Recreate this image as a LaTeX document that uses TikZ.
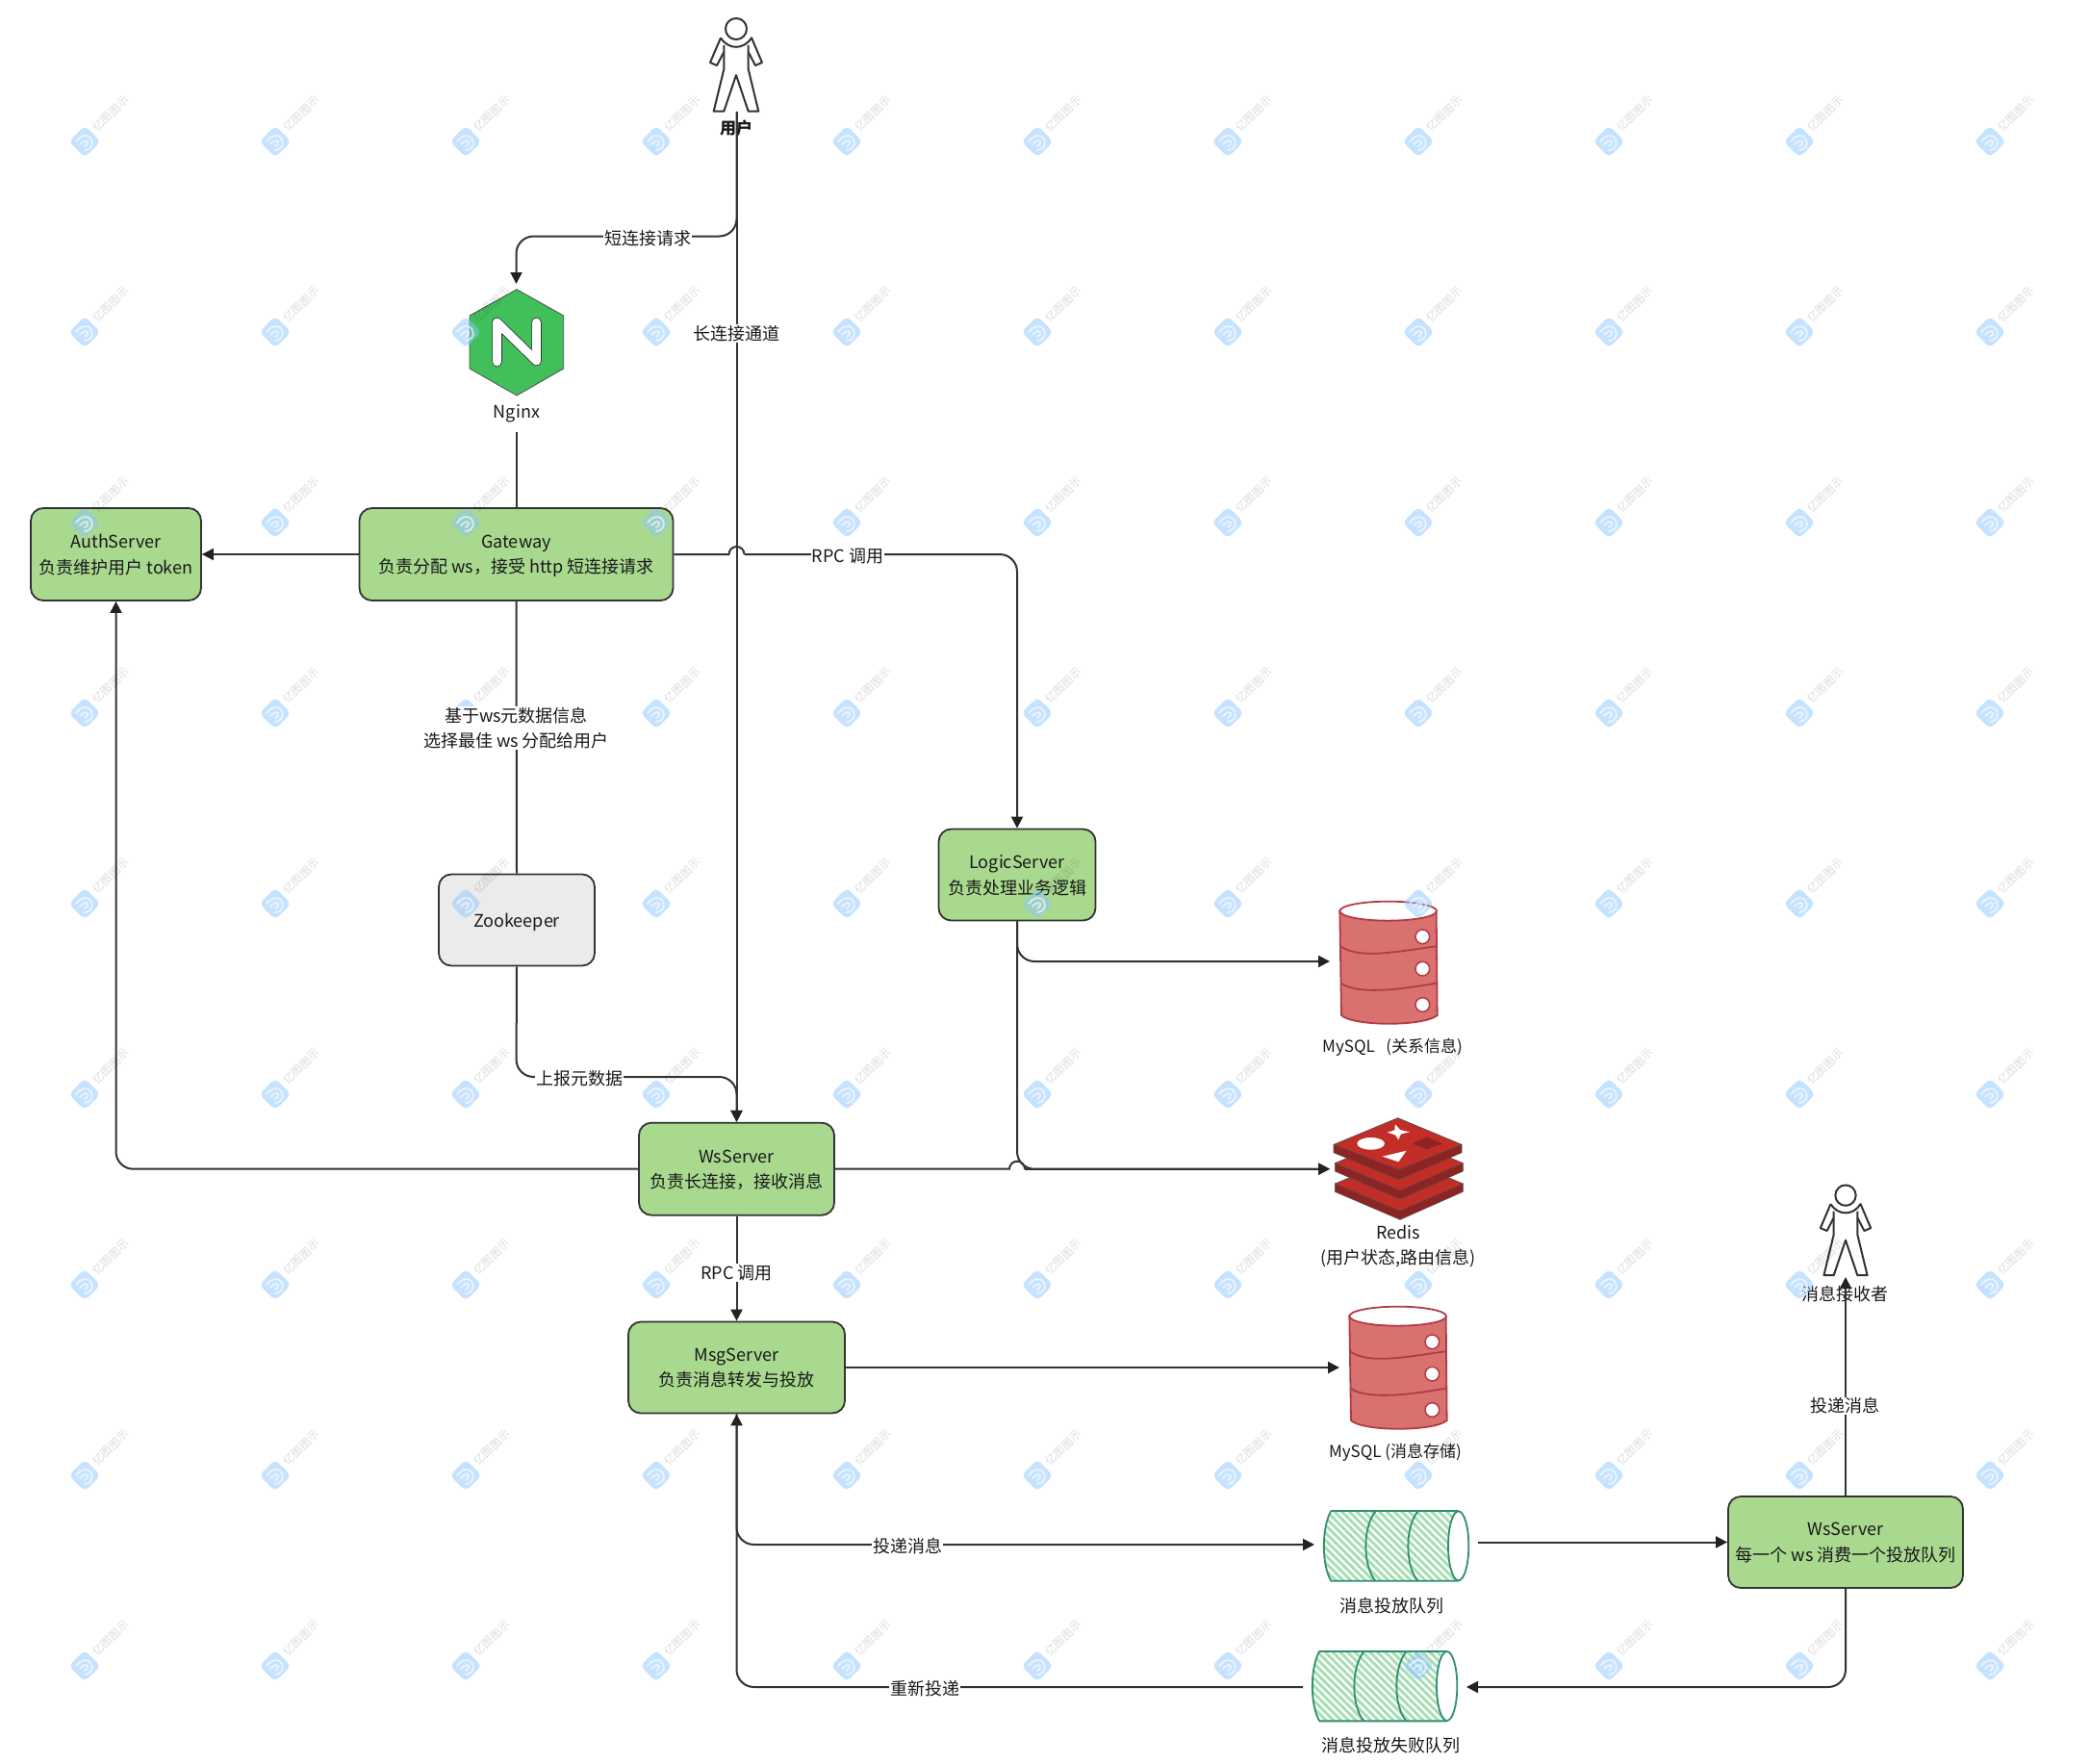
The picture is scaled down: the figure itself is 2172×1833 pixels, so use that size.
\documentclass[tikz,border=0pt]{standalone}
\usepackage{fontspec}
\setmainfont{Noto Sans CJK SC}
\usetikzlibrary{arrows.meta,patterns.meta}
\definecolor{linec}{HTML}{333333}
\definecolor{tipc}{HTML}{222222}
\definecolor{srvgreen}{HTML}{A9D98F}
\definecolor{zkgray}{HTML}{EBEBEB}
\definecolor{ngx}{HTML}{41BF5A}
\definecolor{dbfill}{HTML}{D9716F}
\definecolor{dbline}{HTML}{B23A48}
\definecolor{rtop}{HTML}{C22D28}
\definecolor{rside}{HTML}{8E2422}
\definecolor{qline}{HTML}{2F8F6F}
\definecolor{qhatch}{HTML}{A8DEB3}
\definecolor{wmblue}{HTML}{8CC6FF}
\tikzset{
  srv/.style={draw=linec,line width=1.8pt,fill=srvgreen,rounded corners=13pt,align=center,inner sep=0pt,text=black!90,font=\fontsize{18}{26.5}\selectfont,text depth=-0.5pt},
  lbl/.style={fill=white,inner sep=1pt,align=center,text=black!90,font=\fontsize{18}{26}\selectfont},
  capt/.style={inner sep=0pt,align=center,text=black!90,font=\fontsize{18}{26}\selectfont},
  smallcapt/.style={inner sep=0pt,align=center,text=black!90,font=\fontsize{17}{22}\selectfont},
  wire/.style={draw=linec,line width=2pt},
  arrowwire/.style={wire,-{Triangle[length=12pt,width=12pt,color=tipc]}},
  roundwire/.style={arrowwire,rounded corners=18pt},
  person/.pic={
    \draw[draw=linec,line width=2pt,line join=round] (0,30) circle[radius=11];
    \draw[draw=linec,line width=2pt,line join=round]
      (-16,39.3) .. controls (-8,52) and (8,52) .. (16,39.3)
      -- (27,65) -- (20,68) -- (12.7,54);
    \draw[draw=linec,line width=2pt,line join=round]
      (-16,39.3) -- (-27,65) -- (-20,68) -- (-12.7,54);
    \draw[draw=linec,line width=2pt,line join=round]
      (12.7,47) -- (12.7,72) -- (23.3,115.7) -- (12.7,115.7) -- (0,78)
      -- (-12.7,115.7) -- (-23.3,115.7) -- (-12.7,72) -- (-12.7,47);
  },
  dbcyl/.pic={
    \begin{scope}[scale=.33333]
    \path[fill=dbfill,draw=dbline,line width=1.8pt] (157,140) -- (162,465) .. controls (200,500) and (420,500) .. (461,465) -- (458,140) -- cycle;
    \path[fill=white,draw=dbline,line width=1.8pt] (308,140) ellipse[x radius=151,y radius=30];
    \draw[dbline,line width=1.8pt] (160,250) .. controls (220,295) and (370,260) .. (458,250);
    \draw[dbline,line width=1.8pt] (160,365) .. controls (220,405) and (370,380) .. (458,365);
    \foreach \cy in {220,320,432}
      \path[fill=white,draw=dbline,line width=1.5pt] (415,\cy) circle[radius=22];
    \end{scope}
  },
  queuecyl/.pic={
    \begin{scope}[scale=.33333]
    \path[fill=white] (130,90) -- (527,90) -- (527,308) -- (130,308) .. controls (100,260) and (100,140) .. (130,90) -- cycle;
    \path[pattern={Lines[angle=-45,distance=5.5pt,line width=3pt]},pattern color=qhatch] (130,90) -- (527,90) -- (527,308) -- (130,308) .. controls (100,260) and (100,140) .. (130,90) -- cycle;
    \draw[qline,line width=1.8pt] (130,90) -- (527,90);
    \draw[qline,line width=1.8pt] (527,308) -- (130,308) .. controls (100,260) and (100,140) .. (130,90);
    \draw[qline,line width=1.8pt] (268,92) .. controls (228,140) and (228,260) .. (268,308);
    \draw[qline,line width=1.8pt] (400,92) .. controls (360,140) and (360,260) .. (400,308);
    \path[fill=white,draw=qline,line width=1.8pt] (527,199) ellipse[x radius=32,y radius=108];
    \end{scope}
  },
}
\begin{document}
\begin{tikzpicture}[x=1pt,y=-1pt]
\useasboundingbox (0,0) rectangle (2172,1833);

% people and their captions
\pic at (765,0) {person};
\pic[scale=.97] at (1918,1213) {person};
\node[capt,font=\fontsize{17}{22}\selectfont\bfseries] (userlabel) at (765,133.5) {用户};
\node[capt] (rcvlabel) at (1917,1344.5) {消息接收者};

% Nginx
\path[fill=ngx,draw=black!70,line width=.8pt] (537,300.7) -- (585.7,328) -- (585.7,383) -- (537,411) -- (488,383) -- (488,328) -- cycle;
\draw[black!80,line width=10.5pt,line cap=round,line join=round] (516.5,376) -- (516.5,335) -- (557.5,375) -- (557.5,335);
\draw[white,line width=8.8pt,line cap=round,line join=round] (516.5,376) -- (516.5,335) -- (557.5,375) -- (557.5,335);
\node[capt] (nginxlabel) at (537,429.5) {Nginx};

% MySQL, MySQL, queues
\pic at (1340,900) {dbcyl};
\pic at (1350,1321) {dbcyl};
\node[smallcapt] (mysqlA) at (1447,1088.5) {MySQL\ \ \ (关系信息)};
\node[smallcapt] (mysqlB) at (1450,1509.5) {MySQL (消息存储)};
\pic at (1340,1540) {queuecyl};
\pic at (1328,1685.7) {queuecyl};
\node[capt] (q1label) at (1446,1668.5) {消息投放队列};
\node[capt] (q2label) at (1445,1813.5) {消息投放失败队列};

% Redis
\begin{scope}[shift={(1340,900)},scale=.33333]
  \foreach \dy/\dx in {122/4,58/4}{
    \path[fill=rside,draw=black!70,line width=.6pt] (138+\dx,868+\dy) -- (138+\dx,893+\dy) -- (341+\dx,980+\dy) -- (537+\dx,893+\dy) -- (537+\dx,868+\dy) -- cycle;
    \path[fill=rtop,draw=black!70,line width=.6pt] (138+\dx,868+\dy) -- (338+\dx,785+\dy) -- (537+\dx,868+\dy) -- (341+\dx,953+\dy) -- cycle;
  }
  \path[fill=rside,draw=black!70,line width=.6pt] (138,868) -- (138,893) -- (341,977) -- (537,893) -- (537,868) -- cycle;
  \path[fill=rtop,draw=black!70,line width=.6pt] (138,868) -- (338,785) -- (537,868) -- (341,947) -- cycle;
  \fill[white] (254,865) ellipse[x radius=43,y radius=19];
  \fill[white] (290,905) -- (365,887) -- (340,922) -- cycle;
  \fill[white] (330,805) -- (345,822) -- (375,829) -- (348,835) -- (340,853) -- (330,838) -- (305,830) -- (328,823) -- cycle;
  \path[fill=rside,draw=rside] (385,865) -- (428,845) -- (475,865) -- (428,882) -- cycle;
\end{scope}
\node[capt] (redislabel) at (1453,1295.5) {Redis\\(用户状态,路由信息)};

% servers
\node[srv,minimum width=177pt,minimum height=96pt] (auth) at (120.5,576) {AuthServer\\负责维护用户 token};
\node[srv,minimum width=326pt,minimum height=96pt] (gateway) at (536.5,576) {Gateway\\负责分配 ws，接受 http 短连接请求};
\node[srv,fill=zkgray,minimum width=162pt,minimum height=95pt] (zk) at (537,956) {Zookeeper};
\node[srv,minimum width=163pt,minimum height=95pt] (logic) at (1057,909) {LogicServer\\负责处理业务逻辑};
\node[srv,minimum width=203pt,minimum height=96pt] (ws) at (765.5,1214.7) {WsServer\\负责长连接，接收消息};
\node[srv,minimum width=225pt,minimum height=95pt] (msg) at (765.5,1421) {MsgServer\\负责消息转发与投放};
\node[srv,minimum width=244pt,minimum height=95pt] (wsb) at (1918,1602.5) {WsServer\\每一个 ws 消费一个投放队列};

% free ends
\coordinate (userfoot) at (765.5,116);
\coordinate (nginxtop) at (536.5,295);
\coordinate (shortbend) at (536.5,245.5);
\coordinate (nginxfoot) at (536.5,449);
\coordinate (mysqlAtip) at (1382,999);
\coordinate (redistip) at (1382,1214.7);
\coordinate (mysqlBtip) at (1392,1421);
\coordinate (qAtip) at (1366,1605);
\coordinate (qAout) at (1536,1602.5);
\coordinate (qBtip) at (1524,1753);
\coordinate (qBout) at (1354,1753);
\coordinate (rcvtip) at (1918,1327);
\coordinate (jumpAin) at (757.5,576);
\coordinate (jumpAout) at (773.5,576);
\coordinate (jumpBin) at (1049,1214.7);
\coordinate (jumpBout) at (1065,1214.7);
\coordinate (zkbendA) at (536.5,1119);
\coordinate (zkbendB) at (765.5,1119);

% connectors
\draw[arrowwire] (userfoot) -- (ws.north);
\draw[roundwire] (userfoot) |- (shortbend) -- (nginxtop);
\draw[wire] (nginxfoot) -- (gateway.north);
\draw[arrowwire] (gateway.west) -- (auth.east);
\draw[wire] (gateway.east) -- (jumpAin) arc (180:0:8pt);
\draw[roundwire] (jumpAout) -| (logic.north);
\draw[wire] (gateway.south) -- (zk.north);
\draw[roundwire] (zk.south) -- (zkbendA) -- (zkbendB) -- (ws.north);
\draw[roundwire] (ws.west) -| (auth.south);
\draw[wire] (ws.east) -- (jumpBin) arc (180:0:8pt);
\draw[arrowwire] (jumpBout) -- (redistip);
\draw[roundwire] (logic.south) |- (mysqlAtip);
\draw[roundwire] (logic.south) |- (redistip);
\draw[arrowwire] (ws.south) -- (msg.north);
\draw[arrowwire] (msg.east) -- (mysqlBtip);
\draw[roundwire] (msg.south) |- (qAtip);
\draw[arrowwire] (qAout) -- (wsb.west);
\draw[roundwire] (qBout) -| (msg.south);
\draw[roundwire] (wsb.south) |- (qBtip);
\draw[arrowwire] (wsb.north) -- (rcvtip);

% watermark
\foreach \k in {0,...,10}{
  \foreach \m in {0,...,8}{
    \pgfmathsetmacro{\wx}{88+198*\k}
    \pgfmathsetmacro{\wy}{147+198*\m}
    \begin{scope}[shift={(\wx,\wy)}]
      \fill[wmblue,opacity=.5,rounded corners=5pt] (0,-16.5) -- (16.5,0) -- (0,16.5) -- (-16.5,0) -- cycle;
      \draw[white,opacity=.6,line width=2pt,line cap=round] (-9,0) .. controls (-5,-6) and (3,-9) .. (7,-2) .. controls (10,4) and (5,9) .. (0,9);
      \draw[white,opacity=.6,line width=2pt,line cap=round] (-5,3) .. controls (-2,0) and (1,-2) .. (3,0) .. controls (4,2) and (2,4) .. (0,5);
      \node[rotate=45,inner sep=0pt,text=black,opacity=.14,font=\fontsize{11.5}{13}\selectfont] (wm-\k-\m) at (27,-29) {亿图图示};
    \end{scope}
  }
}

% connector labels
\node[lbl] (t1) at (673,247.5) {短连接请求};
\node[lbl] (t2) at (765.5,346.5) {长连接通道};
\node[lbl] (t3) at (881,578) {RPC 调用};
\node[lbl] (t4) at (536.5,756.5) {基于ws元数据信息\\选择最佳 ws 分配给用户};
\node[lbl] (t5) at (602,1120.5) {上报元数据};
\node[lbl] (t6) at (765.5,1322.5) {RPC 调用};
\node[lbl] (t7) at (943,1606.5) {投递消息};
\node[lbl] (t8) at (961,1754.5) {重新投递};
\node[lbl] (t9) at (1917,1461) {投递消息};
\end{tikzpicture}
\end{document}
